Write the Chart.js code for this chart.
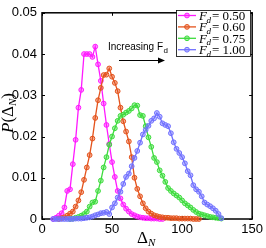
<!DOCTYPE html>
<html>
<head>
<meta charset="utf-8">
<script src="https://cdn.jsdelivr.net/npm/chart.js@4"></script>
<style>
  html, body { margin: 0; padding: 0; background: #fff; }
  #wrap { width: 266px; height: 248px; }
</style>
</head>
<body>
<div id="wrap"><canvas id="grafico" width="266" height="248"></canvas></div>
<script>
// Delta_N values (shared x grid)
const deltaN = [8, 10, 12, 14, 16, 18, 20, 22, 24, 26, 28, 30, 32, 34, 36, 38, 40, 42, 44, 46,
  48, 50, 52, 54, 56, 58, 60, 62, 64, 66, 68, 70, 72, 74, 76, 78, 80, 82, 84, 86,
  88, 90, 92, 94, 96, 98, 100, 102, 104, 106, 108, 110, 112, 114, 116, 118, 120, 122, 124, 126, 128];

// P(Delta_N) for each F_d (null = no point)
const pFd050 = [0, 0.0003, 0.0008, 0.0014, 0.0028, 0.0068, 0.0072, 0.0133, 0.0192, 0.0270,
  0.0313, 0.0400, 0.0400, 0.0400, 0.0393, 0.0418, 0.0375, 0.0335, 0.0280, 0.0228,
  0.0182, 0.0138, 0.0102, 0.0068, 0.0050, 0.0035, 0.0025, 0.0018, 0.0012, 0.0009,
  0.0006, 0.0004, 0.0003, 0.0002, 0.0002, 0.0001, 0.0001, 0.0001, 0, 0,
  null, null, null, null, null, null, null, null, null, null,
  null, null, null, null, null, null, null, null, null, null, null];
const pFd060 = [null, null, 0, 0.0002, 0.0004, 0.0008, 0.0013, 0.0018, 0.0030, 0.0045,
  0.0065, 0.0095, 0.0125, 0.0155, 0.0195, 0.0245, 0.0288, 0.0318, 0.0349, 0.0350,
  0.0365, 0.0345, 0.0330, 0.0310, 0.0270, 0.0237, 0.0212, 0.0188, 0.0150, 0.0100,
  0.0073, 0.0055, 0.0038, 0.0026, 0.0018, 0.0013, 0.0009, 0.0007, 0.0005, 0.0004,
  0.0003, 0.0003, 0.0002, 0.0002, 0.0002, 0.0001, 0.0001, 0.0001, 0.0001, 0.0001,
  0, 0, 0, null, null, null, null, null, null, null, null];
const pFd075 = [null, null, null, null, null, null, 0, 0.0001, 0.0003, 0.0005,
  0.0008, 0.0012, 0.0018, 0.0030, 0.0040, 0.0042, 0.0068, 0.0093, 0.0125, 0.0150,
  0.0180, 0.0200, 0.0220, 0.0238, 0.0250, 0.0253, 0.0258, 0.0262, 0.0268, 0.0276,
  0.0275, 0.0252, 0.0250, 0.0225, 0.0198, 0.0175, 0.0148, 0.0138, 0.0118, 0.0105,
  0.0090, 0.0075, 0.0068, 0.0062, 0.0057, 0.0052, 0.0045, 0.0038, 0.0033, 0.0028,
  0.0022, 0.0017, 0.0013, 0.0011, 0.0009, 0.0007, 0.0005, 0.0004, 0.0003, 0.0002, 0.0001];
const pFd100 = [0, 0, 0, 0, 0, 0, 0, 0, 0.0001, 0.0001,
  0.0001, 0.0002, 0.0003, 0.0004, 0.0006, 0.0009, 0.0011, 0.0014, 0.0015, 0.0017,
  0.0012, 0.0028, 0.0038, 0.0052, 0.0066, 0.0085, 0.0102, 0.0110, 0.0128, 0.0148,
  0.0165, 0.0185, 0.0205, 0.0216, 0.0226, 0.0238, 0.0244, 0.0257, 0.0248, 0.0232,
  0.0228, 0.0225, 0.0208, 0.0186, 0.0170, 0.0160, 0.0150, 0.0135, 0.0116, 0.0106,
  0.0082, 0.0072, 0.0066, 0.0055, 0.0040, 0.0035, 0.0031, 0.0026, 0.0020, 0.0012, 0.0002];

const fdLabels = ['0.50', '0.60', '0.75', '1.00'];
const xTicks = [0, 50, 100, 150];
const yTicks = [0, 0.01, 0.02, 0.03, 0.04, 0.05];

const series = [pFd050, pFd060, pFd075, pFd100];
const cores = ['#ff1aff', '#e4531c', '#3ddc3d', '#7070ff'];
const coresMarcador = ['rgba(255,26,255,0.45)', 'rgba(228,83,28,0.45)', 'rgba(61,220,61,0.45)', 'rgba(112,112,255,0.45)'];

function pontos(serie) {
  return deltaN.map((x, i) => ({ x: x, y: serie[i] })).filter(p => p.y !== null);
}

// moldura, ticks internos, legenda e textos
const extras = {
  id: 'extras',
  beforeDatasetsDraw(chart) {
    const ctx = chart.ctx;
    const a = chart.chartArea;
    const sx = chart.scales.x, sy = chart.scales.y;
    ctx.save();
    ctx.strokeStyle = '#000';
    ctx.lineWidth = 1.5;
    ctx.strokeRect(a.left, a.top, a.right - a.left, a.bottom - a.top);
    ctx.lineWidth = 1;
    ctx.beginPath();
    xTicks.forEach(v => {
      const px = Math.round(sx.getPixelForValue(v)) + 0.5;
      ctx.moveTo(px, a.bottom); ctx.lineTo(px, a.bottom - 3);
      ctx.moveTo(px, a.top); ctx.lineTo(px, a.top + 3);
    });
    yTicks.forEach(v => {
      const py = Math.round(sy.getPixelForValue(v)) + 0.5;
      ctx.moveTo(a.left, py); ctx.lineTo(a.left + 3, py);
      ctx.moveTo(a.right, py); ctx.lineTo(a.right - 3, py);
    });
    ctx.stroke();
    ctx.restore();
  },
  afterDatasetsDraw(chart) {
    const ctx = chart.ctx;
    ctx.save();

    // legenda
    const lx = 176.5, ly = 10.5, lw = 74, lh = 46;
    ctx.fillStyle = '#fff';
    ctx.fillRect(lx, ly, lw, lh);
    ctx.strokeStyle = '#000';
    ctx.lineWidth = 0.8;
    ctx.strokeRect(lx, ly, lw, lh);
    fdLabels.forEach((lab, i) => {
      const y = 15.5 + i * 11.4;
      ctx.strokeStyle = cores[i];
      ctx.lineWidth = 1.3;
      ctx.beginPath();
      ctx.moveTo(178, y); ctx.lineTo(196, y);
      ctx.stroke();
      ctx.beginPath();
      ctx.arc(187, y, 2.4, 0, Math.PI * 2);
      ctx.fillStyle = coresMarcador[i];
      ctx.fill();
      ctx.lineWidth = 1;
      ctx.stroke();
      ctx.fillStyle = '#000';
      ctx.textBaseline = 'alphabetic';
      ctx.textAlign = 'left';
      ctx.font = 'italic 13px "Liberation Serif"';
      ctx.fillText('F', 199, y + 4.5);
      ctx.font = 'italic 9px "Liberation Serif"';
      ctx.fillText('d', 206.5, y + 7);
      ctx.font = '13px "Liberation Serif"';
      ctx.fillText('= ' + lab, 212, y + 4.5);
    });

    // anotacao
    ctx.fillStyle = '#000';
    ctx.font = '10px "Liberation Sans"';
    ctx.textAlign = 'left';
    ctx.textBaseline = 'alphabetic';
    ctx.fillText('Increasing F', 108, 49.5);
    const w = ctx.measureText('Increasing F').width;
    ctx.font = '8px "Liberation Sans"';
    ctx.fillText('d', 108 + w + 0.5, 53);
    ctx.strokeStyle = '#000';
    ctx.lineWidth = 1;
    ctx.beginPath();
    ctx.moveTo(119, 60.5); ctx.lineTo(159, 60.5);
    ctx.stroke();
    ctx.beginPath();
    ctx.moveTo(165, 60.5); ctx.lineTo(158, 57.5); ctx.lineTo(158, 63.5); ctx.closePath();
    ctx.fill();

    // titulo eixo x
    ctx.font = '17px "Liberation Serif"';
    ctx.fillText('\u0394', 137, 243);
    const wd = ctx.measureText('\u0394').width;
    ctx.font = 'italic 11px "Liberation Serif"';
    ctx.fillText('N', 137 + wd, 246);

    // titulo eixo y
    ctx.translate(13, 113);
    ctx.rotate(-Math.PI / 2);
    const partes = [
      ['italic 17px "Liberation Serif"', 'P', 0],
      ['17px "Liberation Serif"', '(\u0394', 0],
      ['italic 11px "Liberation Serif"', 'N', 3],
      ['17px "Liberation Serif"', ')', 0]
    ];
    let total = 0;
    partes.forEach(p => { ctx.font = p[0]; total += ctx.measureText(p[1]).width; });
    let cx = -total / 2;
    partes.forEach(p => {
      ctx.font = p[0];
      ctx.fillText(p[1], cx, p[2]);
      cx += ctx.measureText(p[1]).width;
    });
    ctx.restore();
  }
};

const ctxGrafico = document.getElementById('grafico').getContext('2d');
new Chart(ctxGrafico, {
  type: 'line',
  data: {
    datasets: series.map((s, i) => ({
      label: 'F_d = ' + fdLabels[i],
      data: pontos(s),
      borderColor: cores[i],
      backgroundColor: coresMarcador[i],
      pointBackgroundColor: coresMarcador[i],
      pointBorderColor: cores[i],
      borderWidth: 1.3,
      pointRadius: 2.4,
      pointBorderWidth: 1,
      tension: 0,
      clip: false,
      order: 4 - i
    }))
  },
  options: {
    responsive: false,
    animation: false,
    events: [],
    layout: { padding: { left: 0, top: 8, right: 13, bottom: 0 } },
    plugins: {
      legend: { display: false },
      tooltip: { enabled: false }
    },
    scales: {
      x: {
        type: 'linear',
        min: 0,
        max: 150,
        afterBuildTicks: s => { s.ticks = xTicks.map(v => ({ value: v })); },
        afterFit: s => { s.height = 29; },
        grid: { display: false, drawTicks: false },
        border: { display: false },
        ticks: {
          padding: 3,
          maxRotation: 0,
          color: '#000',
          font: { size: 13, family: 'Liberation Sans' },
          callback: v => String(v)
        }
      },
      y: {
        min: 0,
        max: 0.05,
        afterBuildTicks: s => { s.ticks = yTicks.map(v => ({ value: v })); },
        afterFit: s => { s.width = 42; },
        grid: { display: false, drawTicks: false },
        border: { display: false },
        ticks: {
          padding: 5,
          color: '#000',
          font: { size: 13, family: 'Liberation Sans' },
          callback: v => (v === 0 ? '0' : v.toFixed(2))
        }
      }
    }
  },
  plugins: [extras]
});
</script>
</body>
</html>
